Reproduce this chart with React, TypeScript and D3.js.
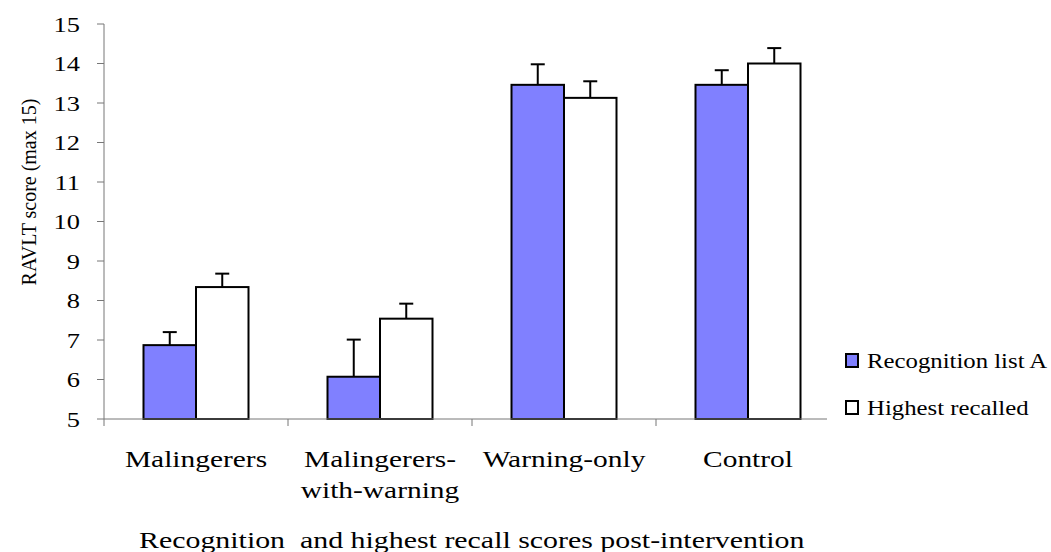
import * as d3 from "d3";

const categories = ["Malingerers", "Malingerers-with-warning", "Warning-only", "Control"];
const categoryLines = [["Malingerers"], ["Malingerers-", "with-warning"], ["Warning-only"], ["Control"]];
const seriesNames = ["Recognition list A", "Highest recalled"];
const recognition = [6.87, 6.07, 13.46, 13.46];
const recognitionErr = [0.33, 0.94, 0.52, 0.37];
const highest = [8.34, 7.54, 13.13, 14.0];
const highestErr = [0.34, 0.38, 0.42, 0.39];
const yTicks = [5, 6, 7, 8, 9, 10, 11, 12, 13, 14, 15];

const W = 1051;
const H = 552;
const left = 104;
const bottom = 419;
const top = 24;
const FONT = "'Liberation Serif', 'Times New Roman', serif";
const BLUE = "#8080ff";

export default function App() {
  const x = d3.scaleBand<string>().domain(categories).range([left, left + 184 * 4]).paddingInner(0).paddingOuter(0);
  const y = d3.scaleLinear().domain([5, 15]).range([bottom, top]);
  const barW = 52.5;

  const series = [
    { name: seriesNames[0], values: recognition, err: recognitionErr, fill: BLUE },
    { name: seriesNames[1], values: highest, err: highestErr, fill: "#ffffff" },
  ];

  return (
    <svg width={W} height={H} style={{ position: "absolute", left: 0, top: 0, background: "#fff" }} fontFamily={FONT}>
      {/* bars */}
      {series.map((s, si) =>
        categories.map((c, i) => {
          const cx = x(c)! + x.bandwidth() / 2;
          const bx = cx - barW + si * barW;
          const yTop = y(s.values[i]);
          const yErr = y(s.values[i] + s.err[i]);
          const mid = bx + barW / 2;
          return (
            <g key={`${si}-${i}`}>
              <line x1={mid} x2={mid} y1={yTop} y2={yErr} stroke="#000" strokeWidth={2} />
              <line x1={mid - 7} x2={mid + 7} y1={yErr} y2={yErr} stroke="#000" strokeWidth={2} />
              <rect x={bx} y={yTop} width={barW} height={bottom - yTop} fill={s.fill} stroke="#000" strokeWidth={2} />
            </g>
          );
        })
      )}

      {/* y axis */}
      <line x1={left} x2={left} y1={top} y2={bottom} stroke="#777" strokeWidth={1} />
      {yTicks.map((t) => (
        <g key={t}>
          <line x1={left - 7} x2={left} y1={y(t)} y2={y(t)} stroke="#777" strokeWidth={1} />
          <text transform={`translate(80,${y(t) + 7.5}) scale(1.2,1)`} textAnchor="end" fontSize={22}>
            {t}
          </text>
        </g>
      ))}
      <text transform={`translate(36,192) scale(1.1,1) rotate(-90)`} textAnchor="middle" fontSize={20}>
        RAVLT score (max 15)
      </text>

      {/* x axis */}
      <line x1={left} x2={827} y1={bottom} y2={bottom} stroke="#777" strokeWidth={1} />
      {categories.map((c) => (
        <line key={c} x1={x(c)!} x2={x(c)!} y1={bottom} y2={bottom + 7} stroke="#777" strokeWidth={1} />
      ))}
      {categories.map((c, i) =>
        categoryLines[i].map((ln, li) => (
          <text
            key={`${c}-${li}`}
            transform={`translate(${x(c)! + x.bandwidth() / 2},${467 + li * 31}) scale(1.28,1)`}
            textAnchor="middle"
            fontSize={23}
          >
            {ln}
          </text>
        ))
      )}
      <text transform={`translate(139,548) scale(1.3,1)`} fontSize={23} style={{ whiteSpace: "pre" }}>
        {"Recognition  and highest recall scores post-intervention"}
      </text>

      {/* legend */}
      {series.map((s, i) => (
        <g key={s.name} transform={`translate(846,${354 + i * 47})`}>
          <rect x={0} y={0} width={12} height={13} fill={s.fill} stroke="#000" strokeWidth={2} />
          <text transform={`translate(21,14) scale(1.18,1)`} fontSize={21}>
            {s.name}
          </text>
        </g>
      ))}
    </svg>
  );
}
